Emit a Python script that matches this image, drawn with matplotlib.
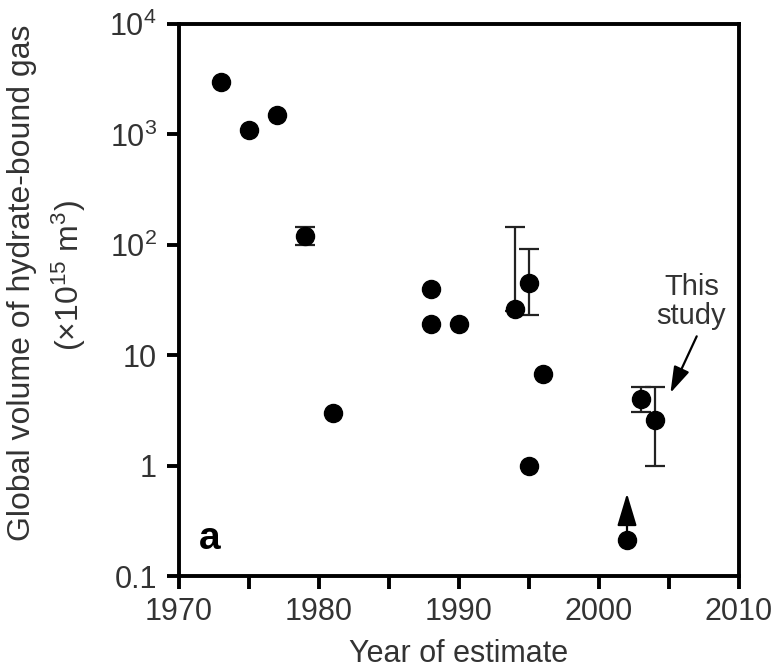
import matplotlib
matplotlib.use("Agg")
import matplotlib.pyplot as plt
from matplotlib.ticker import FixedLocator, FixedFormatter, NullLocator

plt.rcParams['font.family'] = ['Liberation Sans', 'DejaVu Sans']
plt.rcParams['mathtext.fontset'] = 'custom'
plt.rcParams['mathtext.rm'] = 'Liberation Sans'
plt.rcParams['mathtext.it'] = 'Liberation Sans:italic'
plt.rcParams['mathtext.bf'] = 'Liberation Sans:bold'

# Point estimates (year, volume x10^15 m^3)
years = [1973, 1975, 1977, 1979, 1981, 1988, 1988, 1990, 1994, 1995, 1995, 1996, 2002, 2003, 2004]
values = [3000, 1100, 1500, 120, 3.0, 40, 19, 19, 26, 45, 1.0, 6.8, 0.21, 4.0, 2.6]

# Estimates with ranges
err_years = [1979, 1994, 1995, 2003, 2004]
err_values = [120, 26, 45, 4.0, 2.6]
err_low = [100, 25, 23, 3.05, 1.0]
err_high = [145, 145, 91, 5.2, 5.2]

# Lower-bound estimate (arrow up)
lb_year = 2002
lb_value = 0.21
lb_arrow_to = 0.56

y_ticks = [0.1, 1, 10, 100, 1000, 10000]
y_ticklabels = ['0.1', '1', '10', '10$^2$', '10$^3$', '10$^4$']
x_ticks_major = [1970, 1980, 1990, 2000, 2010]
x_ticks_minor = [1975, 1985, 1995, 2005]

text_color = '#333333'
fs = 22

W, H = 773, 669
fig = plt.figure(figsize=(W / 100, H / 100), dpi=100)
ax = fig.add_axes([179 / W, 1 - 576 / H, 560 / W, 552 / H])

ax.set_yscale('log')
ax.set_xlim(1970, 2010)
ax.set_ylim(0.1, 10000)

lo = [v - l for v, l in zip(err_values, err_low)]
hi = [h - v for v, h in zip(err_values, err_high)]
ax.errorbar(err_years, err_values, yerr=[lo, hi], fmt='none', ecolor='#222222',
            elinewidth=1.6, capsize=7, capthick=1.6, zorder=2)
ax.plot(years, values, 'o', color='black', markersize=13, zorder=3, clip_on=False)

ax.annotate('', xy=(lb_year, lb_arrow_to), xytext=(lb_year, lb_value),
            arrowprops=dict(arrowstyle='-|>,head_length=2.0,head_width=0.6',
                            mutation_scale=10, color='black', lw=1.6,
                            shrinkA=0, shrinkB=0), zorder=4)

ax.annotate('This\nstudy', xy=(2005.1, 4.55), xytext=(2006.6, 17),
            ha='center', va='bottom', fontsize=fs - 1, color=text_color,
            linespacing=1.05,
            arrowprops=dict(arrowstyle='-|>,head_length=1.6,head_width=0.5',
                            mutation_scale=10, color='black', lw=1.6,
                            relpos=(0.62, 0.0), shrinkA=3, shrinkB=0))

ax.text(0.055, 0.035, 'a', transform=ax.transAxes, fontsize=28, fontweight='bold',
        color='black', ha='center', va='bottom')

ax.yaxis.set_major_locator(FixedLocator(y_ticks))
ax.yaxis.set_major_formatter(FixedFormatter(y_ticklabels))
ax.yaxis.set_minor_locator(NullLocator())
ax.xaxis.set_major_locator(FixedLocator(x_ticks_major))
ax.xaxis.set_minor_locator(FixedLocator(x_ticks_minor))

for s in ax.spines.values():
    s.set_linewidth(2.8)
ax.tick_params(axis='both', which='both', direction='out', width=2.8, length=9,
               labelsize=fs, labelcolor=text_color)
ax.tick_params(axis='x', which='both', pad=6)
ax.tick_params(axis='y', which='both', pad=7)
ax.tick_params(top=False, right=False)

ax.set_xlabel('Year of estimate', fontsize=fs, color=text_color, labelpad=9)

# Two-line y-axis title
fig.text(22 / W, 1 - 283 / H, 'Global volume of hydrate-bound gas', rotation=90,
         ha='center', va='center', fontsize=23, color=text_color)
fig.text(69 / W, 1 - 276 / H, '(×10$^{15}$ m$^3$)', rotation=90,
         ha='center', va='center', fontsize=23, color=text_color)

fig.savefig('out.png', dpi=100)
